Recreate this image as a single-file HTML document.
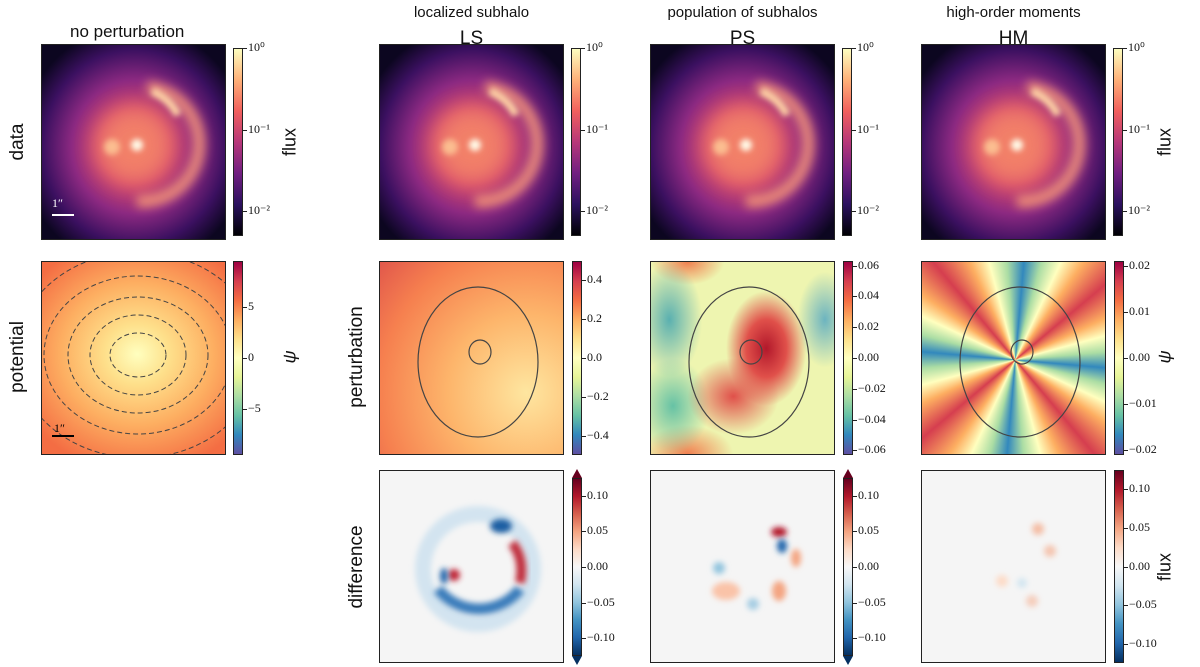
<!DOCTYPE html>
<html><head><meta charset="utf-8"><style>
body{margin:0;width:1200px;height:667px;background:#fff;position:relative;overflow:hidden;font-family:"Liberation Sans",sans-serif}
.p{position:absolute;border:1px solid #222;box-sizing:border-box;overflow:hidden}
.cb{position:absolute;border:1px solid #222;box-sizing:border-box}
.t{position:absolute;white-space:nowrap;color:#111}
.tk{position:absolute;font-family:"Liberation Serif",serif;font-size:12px;color:#111;white-space:nowrap}
.tm{position:absolute;height:1px;width:4px;background:#222}
.rot{position:absolute;transform:translate(-50%,-50%) rotate(-90deg);white-space:nowrap;color:#111}
</style></head><body>
<div id="root"></div>
<svg width="0" height="0" style="position:absolute"><defs>
<filter id="b3" x="-100%" y="-100%" width="300%" height="300%"><feGaussianBlur stdDeviation="3"/></filter>
<filter id="b5" x="-100%" y="-100%" width="300%" height="300%"><feGaussianBlur stdDeviation="5"/></filter>
<filter id="b8" x="-100%" y="-100%" width="300%" height="300%"><feGaussianBlur stdDeviation="10"/></filter>
</defs></svg>
<script>
const magma="linear-gradient(to top,#000004,#2c115f,#721f81,#b73779,#f1605d,#feb078,#fcfdbf)";
const spectral="linear-gradient(to top,#5e4fa2,#3288bd,#66c2a5,#abdda4,#e6f598,#ffffbf,#fee08b,#fdae61,#f46d43,#d53e4f,#9e0142)";
const rdbu="linear-gradient(to top,#053061,#2166ac,#4393c3,#92c5de,#d1e5f0,#f7f7f7,#fddbc7,#f4a582,#d6604d,#b2182b,#67001f)";
const dataTicks=["10⁰","10⁻¹","10⁻²"];
const dataTickVals=[0,-1,-2];
const potTicks=[5,0,-5];
const lsTicks=[0.4,0.2,0.0,-0.2,-0.4];
const psTicks=[0.06,0.04,0.02,0.00,-0.02,-0.04,-0.06];
const hmTicks=[0.02,0.01,0.00,-0.01,-0.02];
const diffTicks=[0.10,0.05,0.00,-0.05,-0.10];
const root=document.getElementById('root');
function el(cls,css,name,html){const d=document.createElement('div');d.className=cls;d.style.cssText=css;


if(html!==undefined)d.innerHTML=html;root.appendChild(d);return d;}
const cols=[41,379,650,921],W=185;
const rows=[44,261,470],H=196;
function fmt(v,dec){const s=Math.abs(v).toFixed(dec);return (v<0?"−":"")+s;}
function colorbar(x,y,h,grad,vals,labels,vmin,vmax,name,ext){
  el('cb',`left:${x}px;top:${y}px;width:10px;height:${h}px;background:${grad}`,name);
  if(ext){el('t',`left:${x}px;top:${y-9}px;width:0;height:0;border-left:5px solid transparent;border-right:5px solid transparent;border-bottom:9px solid #67001f`,name+'-ext-top');
  el('t',`left:${x}px;top:${y+h}px;width:0;height:0;border-left:5px solid transparent;border-right:5px solid transparent;border-top:9px solid #053061`,name+'-ext-bottom');}
  vals.forEach((v,i)=>{const ty=y+(vmax-v)/(vmax-vmin)*h;
    el('tm',`left:${x+10}px;top:${ty}px`,name+'-tick');
    el('tk',`left:${x+15}px;top:${ty-8}px`,name+'-tick-label',labels[i]);});
}
// data row
const dataSvg=`<svg width="185" height="196" style="position:absolute;left:0;top:0">
<defs><radialGradient id="dg" cx="50%" cy="52%" r="62%"><stop offset="0" stop-color="#f4735e"/><stop offset=".3" stop-color="#d5496b"/><stop offset=".55" stop-color="#8c2981"/><stop offset=".8" stop-color="#3b1060"/><stop offset="1" stop-color="#0c0620"/></radialGradient></defs>
<rect width="185" height="196" fill="url(#dg)"/>
<circle cx="92" cy="100" r="38" fill="#f4866a" filter="url(#b8)" opacity=".8"/>
<path d="M105,42 A56,56 0 0 1 95,156" fill="none" stroke="#f79a78" stroke-width="12" filter="url(#b5)" opacity=".85"/>
<path d="M110,46 A53,53 0 0 1 136,70" fill="none" stroke="#fdd0a4" stroke-width="8" filter="url(#b3)"/>
<circle cx="70" cy="102" r="8" fill="#fbbd90" filter="url(#b3)"/>
<circle cx="95" cy="100" r="6" fill="#fffbe8" filter="url(#b3)"/>
</svg>`;
cols.forEach((x,i)=>{el('p',`left:${x}px;top:${rows[0]}px;width:${W}px;height:${H}px;background:#000`,'data-panel-'+i,dataSvg);
 colorbar(x+192,rows[0]+4,H-8,magma,dataTickVals,dataTicks,-2.3,0,'flux-colorbar-'+i);});
el('t','left:52px;top:214px;width:22px;height:2px;background:#fff','scale-bar-data');
el('tk','left:52px;top:196px;color:#fff','scale-bar-data-label','1″');
// potential
el('p',`left:41px;top:261px;width:${W}px;height:194px;background:radial-gradient(ellipse 70% 62% at 52% 48%,#ffffbf 0%,#fee08b 25%,#fdae61 60%,#f46d43 100%)`,'potential-panel',
 `<svg width="185" height="194" style="position:absolute;left:0;top:0">${[[28,22],[48,40],[70,58],[94,79],[122,103]].map(r=>`<ellipse cx="96" cy="93" rx="${r[0]}" ry="${r[1]}" fill="none" stroke="#444" stroke-width="1" stroke-dasharray="5,3"/>`).join('')}<line x1="10" y1="174" x2="32" y2="174" stroke="#000" stroke-width="2"/><text x="12" y="170" font-size="12" font-family="Liberation Serif">1″</text></svg>`);
colorbar(233,261,194,spectral,potTicks,potTicks.map(v=>fmt(v,0)),-9.5,9.5,'psi-colorbar-0');
// perturbations
const crit=`<svg width="185" height="194" style="position:absolute;left:0;top:0"><ellipse cx="98" cy="100" rx="60" ry="75" fill="none" stroke="#444" stroke-width="1.2"/><ellipse cx="100" cy="90" rx="11" ry="12" fill="none" stroke="#444" stroke-width="1.2"/></svg>`;
el('p',`left:379px;top:261px;width:${W}px;height:194px;background:radial-gradient(circle at 80% 68%,#fee6a0 0%,#fdb56b 40%,#f6804f 75%,#d9474a 110%)`,'ls-perturbation-panel',crit);
el('p',`left:650px;top:261px;width:${W}px;height:194px;background:radial-gradient(ellipse 22% 30% at 63% 45%,#b2182b 0%,#e0504a 50%,rgba(0,0,0,0) 100%),radial-gradient(ellipse 25% 20% at 45% 70%,#e0504a 0%,rgba(244,109,67,0) 100%),radial-gradient(ellipse 18% 30% at 10% 30%,#5ab0b0 0%,rgba(0,0,0,0) 100%),radial-gradient(ellipse 20% 25% at 12% 75%,#66c2a5 0%,rgba(0,0,0,0) 100%),radial-gradient(ellipse 15% 25% at 95% 30%,#6cb4c0 0%,rgba(0,0,0,0) 100%),radial-gradient(ellipse 25% 15% at 20% 100%,#f08050 0%,rgba(0,0,0,0) 100%),radial-gradient(ellipse 20% 12% at 20% 0%,#f08050 0%,rgba(0,0,0,0) 100%),#eef5b0`,'ps-perturbation-panel',crit);
el('p',`left:921px;top:261px;width:${W}px;height:194px;background:conic-gradient(from 5deg at 51% 51%,#3288bd,#abdda4 10deg,#ffffbf 20deg,#fdae61 30deg,#d53e4f 45deg,#fdae61 60deg,#ffffbf 70deg,#abdda4 80deg,#3288bd 90deg,#abdda4 100deg,#ffffbf 110deg,#fdae61 120deg,#d53e4f 135deg,#fdae61 150deg,#ffffbf 160deg,#abdda4 170deg,#3288bd 180deg,#abdda4 190deg,#ffffbf 200deg,#fdae61 210deg,#d53e4f 225deg,#fdae61 240deg,#ffffbf 250deg,#abdda4 260deg,#3288bd 270deg,#abdda4 280deg,#ffffbf 290deg,#fdae61 300deg,#d53e4f 315deg,#fdae61 330deg,#ffffbf 340deg,#abdda4 350deg,#3288bd 360deg)`,'hm-perturbation-panel',crit);
colorbar(572,261,194,spectral,lsTicks,lsTicks.map(v=>fmt(v,1)),-0.5,0.5,'ls-colorbar');
colorbar(843,261,194,spectral,psTicks,psTicks.map(v=>fmt(v,2)),-0.063,0.063,'ps-colorbar');
colorbar(1114,261,194,spectral,hmTicks,hmTicks.map(v=>fmt(v,2)),-0.021,0.021,'hm-colorbar');
// difference
el('p',`left:379px;top:470px;width:${W}px;height:193px;background:#f5f5f5`,'ls-difference-panel',`<svg width="185" height="193" style="position:absolute"><circle cx="98" cy="98" r="55" fill="none" stroke="#d3e4f0" stroke-width="16" filter="url(#b3)"/><path d="M58,118 A52,52 0 0 0 140,118" fill="none" stroke="#3a7dbb" stroke-width="11" filter="url(#b3)"/><ellipse cx="121" cy="55" rx="11" ry="7" fill="#1d5fa3" filter="url(#b3)"/><path d="M132,72 Q145,88 140,112" stroke="#c03040" stroke-width="10" fill="none" filter="url(#b3)"/><circle cx="74" cy="104" r="6" fill="#c02838" filter="url(#b3)"/><ellipse cx="64" cy="105" rx="4" ry="8" fill="#2166ac" filter="url(#b3)"/></svg>`);
el('p',`left:650px;top:470px;width:${W}px;height:193px;background:#f5f5f5`,'ps-difference-panel',`<svg width="185" height="193" style="position:absolute"><ellipse cx="128" cy="61" rx="8" ry="5" fill="#b2182b" filter="url(#b3)"/><ellipse cx="131" cy="75" rx="5" ry="7" fill="#2166ac" filter="url(#b3)"/><ellipse cx="145" cy="87" rx="5" ry="9" fill="#f4a582" filter="url(#b3)"/><circle cx="68" cy="97" r="6" fill="#92c5de" filter="url(#b3)"/><ellipse cx="75" cy="120" rx="14" ry="9" fill="#fac3a8" filter="url(#b3)"/><circle cx="102" cy="133" r="6" fill="#a6cde3" filter="url(#b3)"/><ellipse cx="128" cy="120" rx="7" ry="10" fill="#f4a582" filter="url(#b3)"/></svg>`);
el('p',`left:921px;top:470px;width:${W}px;height:193px;background:#f5f5f5`,'hm-difference-panel',`<svg width="185" height="193" style="position:absolute"><circle cx="116" cy="58" r="6" fill="#f4a582" opacity=".7" filter="url(#b3)"/><circle cx="128" cy="80" r="6" fill="#f4a582" opacity=".6" filter="url(#b3)"/><circle cx="110" cy="130" r="6" fill="#f4a582" opacity=".5" filter="url(#b3)"/><circle cx="80" cy="110" r="6" fill="#fddbc7" filter="url(#b3)"/><circle cx="100" cy="112" r="5" fill="#d1e5f0" filter="url(#b3)"/></svg>`);
colorbar(572,478,178,rdbu,diffTicks,diffTicks.map(v=>fmt(v,2)),-0.125,0.125,'ls-diff-colorbar',true);
colorbar(843,478,178,rdbu,diffTicks,diffTicks.map(v=>fmt(v,2)),-0.125,0.125,'ps-diff-colorbar',true);
colorbar(1114,470,193,rdbu,diffTicks,diffTicks.map(v=>fmt(v,2)),-0.125,0.125,'hm-diff-colorbar');
// titles
el('t','left:70px;top:22px;font-size:17px','title-no-perturbation','no perturbation');
[[379,'localized subhalo','LS'],[650,'population of subhalos','PS'],[921,'high-order moments','HM']].forEach((c,i)=>{
 el('t',`left:${c[0]}px;top:4px;width:185px;text-align:center;font-size:15px`,'subtitle-'+i,c[1]);
 el('t',`left:${c[0]}px;top:28px;width:185px;text-align:center;font-size:19px`,'title-'+c[2],c[2]);});
[[18,142,'data'],[18,357,'potential'],[357,357,'perturbation'],[357,567,'difference']].forEach(r=>el('rot',`left:${r[0]}px;top:${r[1]}px;font-size:19px`,'row-label-'+r[2],r[2]));
[[290,142,'flux'],[1165,142,'flux'],[1165,567,'flux'],[290,357,'ψ'],[1165,357,'ψ']].forEach((r,i)=>el('rot',`left:${r[0]}px;top:${r[1]}px;font-size:18px;font-style:${r[2]=='ψ'?'italic':'normal'}`,'axis-label-'+i,r[2]));
</script></body></html>
